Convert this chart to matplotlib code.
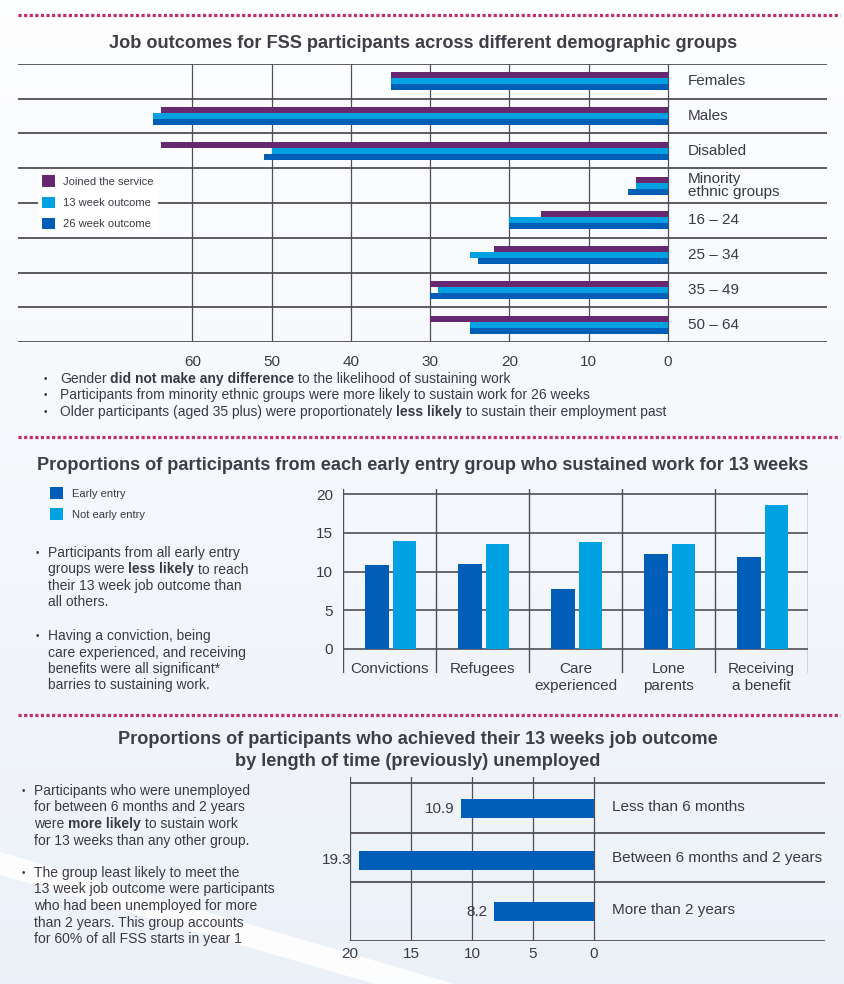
import numpy as np
import matplotlib
matplotlib.use("Agg")
import matplotlib.pyplot as plt
from matplotlib.patches import Polygon

plt.rcParams['font.family'] = ['Liberation Sans', 'DejaVu Sans']

# ---- data -------------------------------------------------------------
groups = ["Females", "Males", "Disabled", "Minority\nethnic groups",
          "16 – 24", "25 – 34", "35 – 49", "50 – 64"]
joined = [35, 64, 64, 4, 16, 22, 30, 30]
week13 = [35, 65, 50, 4, 20, 25, 29, 25]
week26 = [35, 65, 51, 5, 20, 24, 30, 25]
ticks1 = [60, 50, 40, 30, 20, 10, 0]

entry_groups = ["Convictions", "Refugees", "Care\nexperienced", "Lone\nparents", "Receiving\na benefit"]
early = [10.9, 11.0, 7.7, 12.3, 11.9]
not_early = [13.9, 13.5, 13.8, 13.6, 18.6]
ticks2 = [0, 5, 10, 15, 20]

durations = ["Less than 6 months", "Between 6 months and 2 years", "More than 2 years"]
pct13 = [10.9, 19.3, 8.2]
ticks3 = [20, 15, 10, 5, 0]

notes1 = ["Gender **did not make any difference** to the likelihood of sustaining work",
          "Participants from minority ethnic groups were more likely to sustain work for 26 weeks",
          "Older participants (aged 35 plus) were proportionately **less likely** to sustain their employment past"]
notes2 = [["Participants from all early entry", "groups were **less likely** to reach",
           "their 13 week job outcome than", "all others."],
          ["Having a conviction, being", "care experienced, and receiving",
           "benefits were all significant*", "barries to sustaining work."]]
notes3 = [["Participants who were unemployed", "for between 6 months and 2 years",
           "were **more likely** to sustain work", "for 13 weeks than any other group."],
          ["The group least likely to meet the", "13 week job outcome were participants",
           "who had been unemployed for more", "than 2 years. This group accounts",
           "for 60% of all FSS starts in year 1"]]

PURPLE = "#66296f"
LIGHT = "#00a1e0"
DARK = "#005eb8"
GRID = "#4f4f55"
TXT = "#3a3a44"
TITLE = "#3e3e46"
DOTS = "#c0306e"

W, H = 844, 984
fig = plt.figure(figsize=(W / 100, H / 100), dpi=100)


def axes_px(x0, y0, x1, y1):
    return fig.add_axes([x0 / W, 1 - y1 / H, (x1 - x0) / W, (y1 - y0) / H])


# ---- background ---------------------------------------------------------
bg = axes_px(0, 0, W, H)
bg.set_xlim(0, W)
bg.set_ylim(H, 0)
bg.axis("off")
top = np.array([0.995, 0.997, 1.0])
bot = np.array([0.925, 0.945, 0.975])
t = np.linspace(0, 1, 200)[:, None, None]
grad = top * (1 - t) + bot * t
bg.imshow(grad, extent=(0, W, H, 0), aspect="auto", zorder=0)
bg.add_patch(Polygon([(0, 852), (455, 984), (375, 984), (0, 875)],
                     closed=True, color="white", alpha=0.9, zorder=1, lw=0))
for yy in (15, 437, 715):
    bg.plot([18, 840], [yy, yy], color=DOTS, lw=2.3, ls=(0, (1, 0.75)), zorder=2)

renderer = fig.canvas.get_renderer()


def rich_line(x, y, line, size=10):
    sp = size * 0.278 * 100 / 72
    for k, seg in enumerate(line.split("**")):
        if not seg:
            continue
        x += (len(seg) - len(seg.lstrip(" "))) * sp
        tx = bg.text(x, y, seg.strip(" "), fontsize=size, color=TXT, va="center",
                     ha="left", fontweight="bold" if k % 2 else "normal", zorder=3)
        x += tx.get_window_extent(renderer).width
        x += (len(seg) - len(seg.rstrip(" "))) * sp


def bullets(xb, xt, y0, step, blocks, gap, size=10):
    y = y0
    for block in blocks:
        bg.text(xb, y, "•", fontsize=7, color=TXT, va="center", ha="center", zorder=3)
        for line in block:
            rich_line(xt, y, line, size)
            y += step
        y += gap


# ---- panel 1 ------------------------------------------------------------
bg.text(423, 44, "Job outcomes for FSS participants across different demographic groups",
        ha="center", va="center", fontsize=13.1, fontweight="bold", color=TITLE)

ax1 = axes_px(18, 64, 827, 342)
ax1.set_facecolor("none")
y1 = np.arange(len(groups))
h1 = 0.171
b_j = ax1.barh(y1 - h1, joined, height=h1, color=PURPLE, zorder=3)
b_13 = ax1.barh(y1, week13, height=h1, color=LIGHT, zorder=3)
b_26 = ax1.barh(y1 + h1, week26, height=h1, color=DARK, zorder=3)
ax1.set_xlim(82, -20.06)
ax1.set_ylim(len(groups) - 0.5, -0.5)
for b in np.arange(-0.5, len(groups)):
    ax1.axhline(b, color=GRID, lw=1.3, zorder=1)
for tk in ticks1:
    ax1.axvline(tk, color=GRID, lw=0.9, zorder=1)
for s in ax1.spines.values():
    s.set_visible(False)
ax1.set_xticks(ticks1)
ax1.set_yticks([])
ax1.tick_params(length=0, pad=9, labelsize=11, labelcolor=TXT)
for i, g in enumerate(groups):
    ax1.text(-2.5, i, g, ha="left", va="center", fontsize=11, color=TXT, linespacing=0.9)
ax1.legend([b_j, b_13, b_26], ["Joined the service", "13 week outcome", "26 week outcome"],
           loc="upper left", bbox_to_anchor=(37.6 / W, 1 - 171 / H), bbox_transform=fig.transFigure,
           fontsize=8, frameon=True, facecolor="white", edgecolor="none", fancybox=False,
           framealpha=1, borderpad=0.4, handlelength=1.17, handleheight=1.17,
           handletextpad=0.72, labelspacing=0.88, borderaxespad=0, labelcolor=TXT)

for i, line in enumerate(notes1):
    bg.text(45, 379 + i * 16.5, "•", fontsize=7, color=TXT, va="center", ha="center", zorder=3)
    rich_line(60, 379 + i * 16.5, line, 10)

# ---- panel 2 ------------------------------------------------------------
bg.text(423, 465, "Proportions of participants from each early entry group who sustained work for 13 weeks",
        ha="center", va="center", fontsize=13.1, fontweight="bold", color=TITLE)

ax2 = axes_px(343, 489, 808, 673)
ax2.set_facecolor("none")
x2 = np.arange(len(entry_groups))
b_e = ax2.bar(x2 - 0.135, early, width=0.25, color=DARK, zorder=3)
b_n = ax2.bar(x2 + 0.16, not_early, width=0.25, color=LIGHT, zorder=3)
ax2.set_xlim(-0.5, len(entry_groups) - 0.5)
ax2.set_ylim(-3.15, 20.69)
for tk in ticks2:
    ax2.axhline(tk, color=GRID, lw=1.2, zorder=1)
for b in np.arange(-0.5, len(entry_groups)):
    ax2.axvline(b, color=GRID, lw=1.0, zorder=1)
for s in ax2.spines.values():
    s.set_visible(False)
ax2.set_yticks(ticks2)
ax2.set_xticks([])
ax2.tick_params(length=0, pad=7, labelsize=11, labelcolor=TXT)
for i, g in enumerate(entry_groups):
    ax2.text(i, -1.7, g, ha="center", va="top", fontsize=11, color=TXT,
             linespacing=1.3, clip_on=False)
ax2.legend([b_e, b_n], ["Early entry", "Not early entry"], loc="upper left",
           bbox_to_anchor=(50 / W, 1 - 487.5 / H), bbox_transform=fig.transFigure,
           frameon=False, fontsize=8, borderpad=0, borderaxespad=0, handlelength=1.2,
           handleheight=1.2, handletextpad=0.75, labelspacing=0.85, labelcolor=TXT)

bullets(37, 48, 553, 16.5, notes2, 17, 10)

# ---- panel 3 ------------------------------------------------------------
bg.text(418, 740, "Proportions of participants who achieved their 13 weeks job outcome",
        ha="center", va="center", fontsize=13.1, fontweight="bold", color=TITLE)
bg.text(418, 762, "by length of time (previously) unemployed",
        ha="center", va="center", fontsize=13.1, fontweight="bold", color=TITLE)

ax3 = axes_px(350, 777, 825, 941)
ax3.set_facecolor("none")
y3 = np.arange(len(durations))
ax3.barh(y3, pct13, height=0.375, color=DARK, zorder=3)
ax3.set_xlim(20, -18.93)
ax3.set_ylim(2.57, -0.615)
for b in (-0.5, 0.47, 1.43, 2.57):
    ax3.axhline(b, color=GRID, lw=1.3, zorder=1)
for tk in ticks3:
    ax3.axvline(tk, color=GRID, lw=0.9, zorder=1)
for s in ax3.spines.values():
    s.set_visible(False)
ax3.set_xticks(ticks3)
ax3.set_yticks([])
ax3.tick_params(length=0, pad=4, labelsize=11, labelcolor=TXT)
for i, (d, v) in enumerate(zip(durations, pct13)):
    ax3.text(v + 0.55, i, f"{v}", ha="right", va="center", fontsize=11, color=TXT, zorder=4)
    ax3.text(-1.48, i - 0.04, d, ha="left", va="center", fontsize=11, color=TXT)

bullets(23, 34, 791, 16.5, notes3, 16, 10)

fig.savefig("out.png", dpi=100)
